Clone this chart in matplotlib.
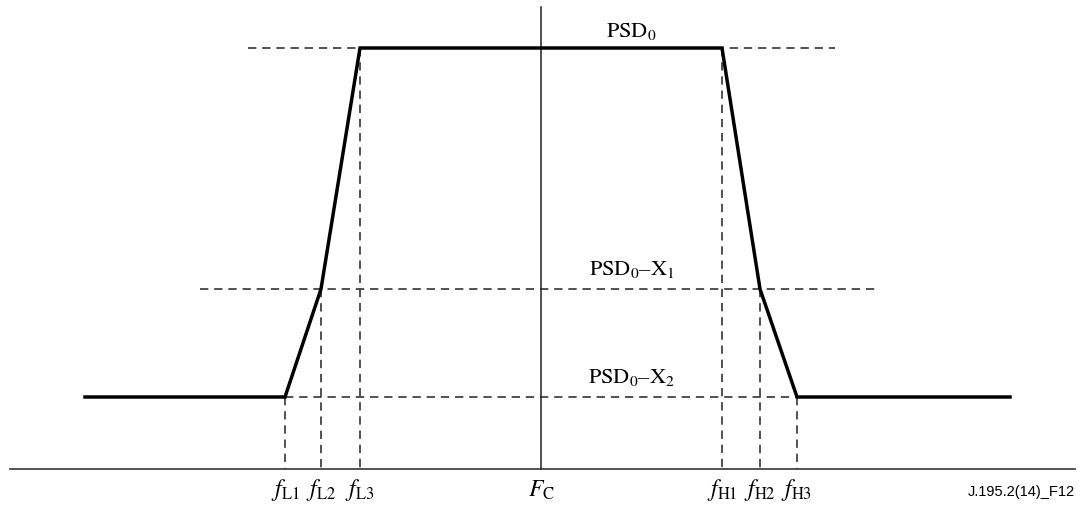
import matplotlib.pyplot as plt

plt.rcParams['font.family'] = ['Liberation Serif', 'DejaVu Serif']
plt.rcParams['mathtext.fontset'] = 'stix'

# frequency positions (horizontal) and PSD levels (vertical), in figure units
f_low = [285, 321, 360]
f_high = [722, 760, 797]
fc = 541
band_edges = [85, 1010]
psd0 = 49
psd_x1 = 290
psd_x2 = 398
baseline = 470

low_labels = [r'$f_{\mathrm{L1}}$', r'$f_{\mathrm{L2}}$', r'$f_{\mathrm{L3}}$']
high_labels = [r'$f_{\mathrm{H1}}$', r'$f_{\mathrm{H2}}$', r'$f_{\mathrm{H3}}$']

fig = plt.figure(figsize=(10.8, 5.06), dpi=100)
ax = fig.add_axes([0, 0, 1, 1])
ax.set_xlim(0, 1080)
ax.set_ylim(506, 0)
ax.axis('off')

dash = dict(color='#333333', lw=1.2, dashes=(5, 3.5))

# horizontal dashed reference levels
ax.plot([248, 835], [psd0, psd0], **dash)
ax.plot([200, 880], [psd_x1, psd_x1], **dash)
ax.plot([f_low[0], f_high[2]], [psd_x2, psd_x2], **dash)

# vertical dashed drops to the axis
levels = [psd_x2, psd_x1, psd0]
for i in range(3):
    ax.plot([f_low[i], f_low[i]], [levels[i], baseline], **dash)
    ax.plot([f_high[i], f_high[i]], [levels[2 - i], baseline], **dash)

# axis and centre line
ax.plot([10, 1075], [baseline, baseline], color='#444444', lw=1.3)
ax.plot([fc, fc], [8, baseline], color='#222222', lw=1.1)

# PSD mask
mask_x = [band_edges[0], f_low[0], f_low[1], f_low[2], f_high[0], f_high[1], f_high[2], band_edges[1]]
mask_y = [psd_x2, psd_x2, psd_x1, psd0, psd0, psd_x1, psd_x2, psd_x2]
ax.plot(mask_x, mask_y, color='black', lw=2.5, solid_joinstyle='miter')

# labels
ax.text(631, 31, r'$\mathrm{PSD}_0$', fontsize=16, ha='center', va='center')
ax.text(632, 270, r'$\mathrm{PSD}_0$–$\mathrm{X}_1$', fontsize=16, ha='center', va='center')
ax.text(631, 378, r'$\mathrm{PSD}_0$–$\mathrm{X}_2$', fontsize=16, ha='center', va='center')

for x, lab in zip(f_low, low_labels):
    ax.text(x, 490, lab, fontsize=17, ha='center', va='center')
for x, lab in zip(f_high, high_labels):
    ax.text(x, 490, lab, fontsize=17, ha='center', va='center')
ax.text(fc, 490, r'$F_{\mathrm{C}}$', fontsize=17, ha='center', va='center')

ax.text(1075, 492, 'J.195.2(14)_F12', fontsize=10.5, ha='right', va='center',
        family='Liberation Sans')

fig.savefig('out.png', dpi=100)
